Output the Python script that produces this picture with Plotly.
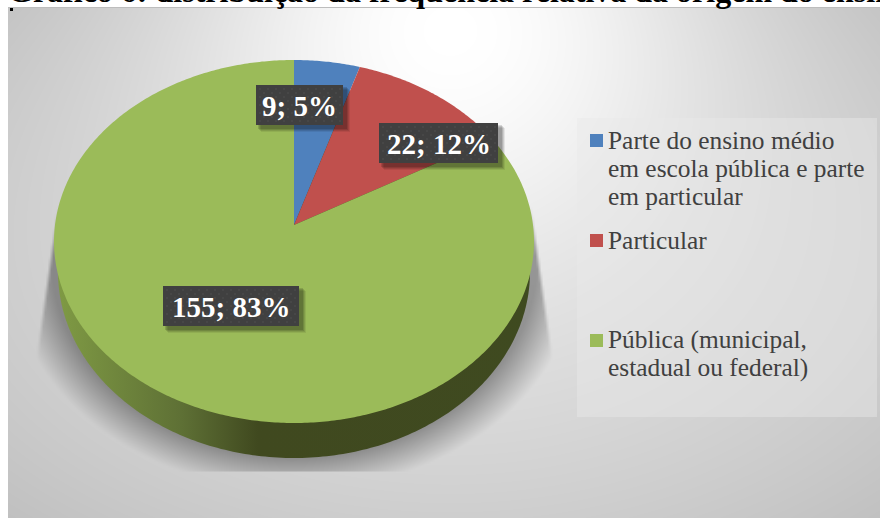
#!/usr/bin/env python
# coding: utf-8

import numpy as np
import plotly.graph_objs as go

# data
categories = ["Parte do ensino médio em escola pública e parte em particular",
              "Particular",
              "Pública (municipal, estadual ou federal)"]
values = [9, 22, 155]
colors = ["#4f81bd", "#c0504d", "#9bbb59"]
legend_lines = [["Parte do ensino médio", "em escola pública e parte", "em particular"],
                ["Particular"],
                ["Pública (municipal,", "estadual ou federal)"]]
title_text = "Gráfico 6: distribuição da frequência relativa da origem do ensino"

W, H = 880, 518
SERIF = "Liberation Serif"


def project(theta):
    """ circle of the pie seen in perspective, theta clockwise from the top """
    u, v = np.sin(theta), np.cos(theta)
    w = 1 + 0.0909 * v
    return 294 + 239 * u / w, 225 - 180 * v / w


def background():
    """ grey gradient of the chart area with the soft shadow under the pie """
    x = np.arange(9, W + 1, 2)
    y = np.arange(8, H + 1, 2)
    xx, yy = np.meshgrid(x, y)
    base = 218 - 13 * (((xx - 450) / 440) ** 2 + ((yy - 260) / 258) ** 2)
    glow = np.exp(-(((xx - 450) / 260) ** 2 + ((yy - 30) / 240) ** 2))
    grey = base + (255 - base) * glow
    rho = np.sqrt(((xx - 294) / 285) ** 2 + ((yy - 262) / 228) ** 2)
    alpha = 0.35 * np.clip((1 - rho) / 0.15, 0, 1)
    # shadow is cut by a slanted edge each side and flat at the bottom
    side = np.clip((239 + (yy - 213) * 17 / 120 - np.abs(xx - 294)) / 4, 0, 1)
    top = np.clip((yy - 205) / 40, 0, 1)
    bottom = np.clip((472 - yy) / 2, 0, 1)
    grey = grey * (1 - alpha * side * top * bottom)
    return x, y, grey


fig = go.Figure()

bg_x, bg_y, bg_z = background()
fig.add_trace(go.Heatmap(x=bg_x, y=bg_y, z=bg_z, zmin=0, zmax=255, zsmooth="best",
                         colorscale=[[0, "black"], [1, "white"]],
                         showscale=False, hoverinfo="skip"))

# legend panel
fig.add_trace(go.Scatter(x=[577, 877, 877, 577, 577], y=[118, 118, 417, 417, 118],
                         mode="none", fill="toself", fillcolor="rgba(232,232,232,0.45)",
                         hoverinfo="skip"))

# side wall of the pie
t = np.linspace(0, 2 * np.pi, 361)
fig.add_trace(go.Scatter(x=294 + 236 * np.sin(t), y=272 + 186 * np.cos(t),
                         mode="none", fill="toself", hoverinfo="skip",
                         fillgradient=dict(type="horizontal", start=58, stop=534,
                                           colorscale=[[0, "#7f9a44"], [0.26, "#5e7035"],
                                                       [0.42, "#40491f"], [1, "#3f4a20"]])))

# slices
total = sum(values)
start = 0
for val, col, name in zip(values, colors, categories):
    end = start + val / total * 2 * np.pi
    theta = np.linspace(start, end, max(int(val) * 3, 30))
    px, py = project(theta)
    fig.add_trace(go.Scatter(x=np.r_[294, px, 294], y=np.r_[225, py, 225], mode="none",
                             fill="toself", fillcolor=col, name=name, hoverinfo="name"))
    start = end

shapes = []
annots = []

# data labels
label_boxes = [(256, 85, 343, 125), (379, 123, 498, 163), (163, 286, 299, 326)]
for val, (x0, y0, x1, y1) in zip(values, label_boxes):
    for off, op in [(7, 0.07), (6, 0.1), (5, 0.12), (4, 0.14)]:
        shapes.append(dict(type="rect", x0=x0 + off - 2, x1=x1 + off, y0=y0 + off - 2, y1=y1 + off,
                           fillcolor="black", opacity=op, line_width=0))
    shapes.append(dict(type="rect", x0=x0, x1=x1, y0=y0, y1=y1,
                       fillcolor="#404040", line_width=0))
    # faint dotted texture of the label fill
    for row, dy in enumerate(range(y0 + 4, y1 - 1, 4)):
        for dx in range(x0 + 4 + 4 * (row % 2), x1 - 1, 8):
            shapes.append(dict(type="circle", x0=dx - 1, x1=dx + 1, y0=dy - 1, y1=dy + 1,
                               fillcolor="#4a4a4a", line_width=0))
    annots.append(dict(x=(x0 + x1) / 2, y=(y0 + y1) / 2 + 1,
                       text="%d; %d%%" % (val, round(val / total * 100)),
                       font=dict(family=SERIF, size=29, color="white", weight="bold")))

# legend, one annotation per line so the spacing stays tight
first_line_y = [140, 240, 340]
for lines, col, y0 in zip(legend_lines, colors, first_line_y):
    shapes.append(dict(type="rect", x0=590, x1=603, y0=y0 - 6, y1=y0 + 7,
                       fillcolor=col, line_width=0))
    for i, line in enumerate(lines):
        annots.append(dict(x=606, y=y0 + i * 28.3 - 0.5, text=line, xanchor="left",
                           font=dict(family=SERIF, size=25.4, color="#404040")))

# frame bits and the cut off heading above the chart
shapes.append(dict(type="line", x0=8, x1=W, y0=7.5, y1=7.5, line=dict(color="#bdbdbd", width=1)))
shapes.append(dict(type="rect", x0=10, x1=13, y0=8, y1=11, fillcolor="black", line_width=0))
annots.append(dict(x=6, y=3, text=title_text, xanchor="left", yanchor="bottom", yshift=-8,
                   font=dict(family=SERIF, size=32, color="black", weight="bold")))

for a in annots:
    a.update(xref="x", yref="y", showarrow=False)

fig.update_layout(width=W, height=H, margin=dict(l=0, r=0, t=0, b=0),
                  paper_bgcolor="white", plot_bgcolor="white", showlegend=False,
                  xaxis=dict(range=[0, W], visible=False),
                  yaxis=dict(range=[H, 0], visible=False),
                  shapes=shapes, annotations=annots)

fig.write_html("out.html", config=dict(displayModeBar=False),
               post_script="document.body.style.margin='0';document.body.style.overflow='hidden';")
